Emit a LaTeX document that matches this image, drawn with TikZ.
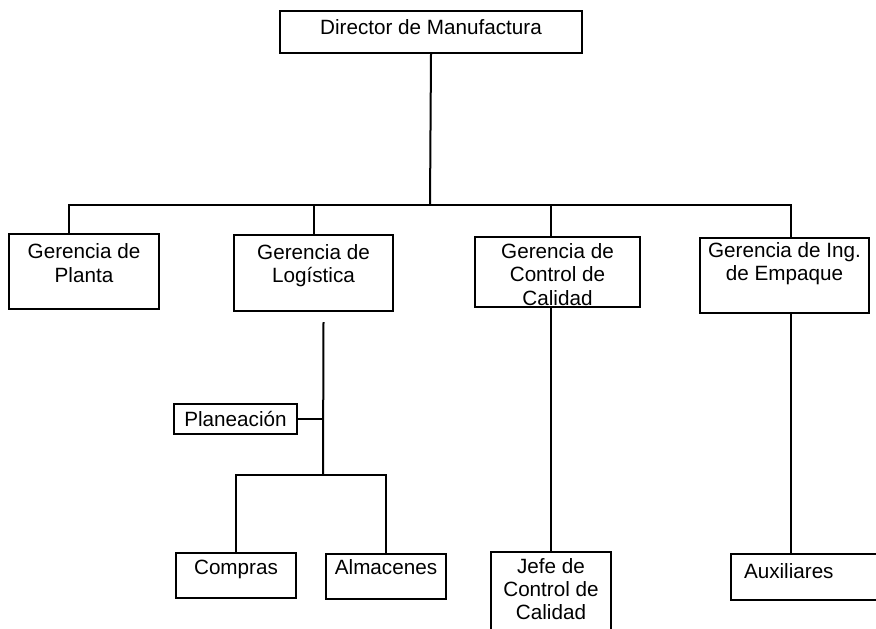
\documentclass[tikz,border=0pt]{standalone}
\usepackage{fontspec}
\setmainfont{Liberation Sans}
\usepackage{tikz}
\usetikzlibrary{positioning}

% texto de cada caja: [espacio arriba]{ancho}{alto}{texto}
\newcommand{\texto}[4][3pt]{\parbox[c][#3][t]{#2}{\centering\vspace*{#1}\strut #4}}

\tikzset{
  caja/.style={draw, line width=1.2pt, inner sep=0pt, anchor=north west,
    font=\fontsize{12.4}{14}\selectfont},
  linea/.style={line width=1.2pt},
}

\begin{document}
\begin{tikzpicture}[x=0.6pt, y=-0.6pt]
\useasboundingbox (0,0) rectangle (876,628);
\clip (0,0) rectangle (876,628);

% direccion
\node[caja] (dir) at (279,10) {\texto[4pt]{181.2pt}{25.2pt}{Director de Manufactura}};

% gerencias
\node[caja] (planta) at (8,233) {\texto[5pt]{90pt}{45pt}{Gerencia de\\Planta}};
\node[caja] (logistica) at (233,234) {\texto[4.6pt]{95.4pt}{45.6pt}{Gerencia de\\Logística}};
\node[caja] (calidad) at (474,236) {\texto[3pt]{99pt}{42pt}{Gerencia de\\Control de\\Calidad}};
\node[caja] (empaque) at (699,237) {\texto[1.6pt]{101.4pt}{45pt}{Gerencia de Ing.\\de Empaque}};

% departamentos
\node[caja] (planeacion) at (173,403) {\texto[3.8pt]{73.8pt}{18pt}{Planeación}};
\node[caja] (compras) at (175,552) {\texto[2.8pt]{72pt}{27pt}{Compras}};
\node[caja] (almacenes) at (325,553) {\texto[2.2pt]{72pt}{27pt}{Almacenes}};
\node[caja] (jefe) at (490,551) {\texto[2.8pt]{72pt}{54pt}{Jefe de\\Control de\\Calidad}};
\node[caja] (auxiliares) at (730,553) {\parbox[c][27.6pt][t]{96pt}{\vspace*{5pt}\hspace*{7.8pt}\strut Auxiliares}};

% lineas de mando
\coordinate (bus) at (430,205);
\coordinate (pla) at ([xshift=-9pt]planta.north);
\coordinate (emp) at ([xshift=4pt]empaque.north);
\draw[linea] (dir.south) -- (bus);
\draw[linea] (pla) |- (bus) -| (emp);
\draw[linea] (logistica.north) -- (logistica.north |- bus);
\draw[linea] (jefe.north |- bus) -- (jefe.north |- calidad.north);
\draw[linea] (jefe.north |- calidad.south) -- (jefe.north);

\coordinate (emps) at ([xshift=4pt]empaque.south);
\draw[linea] (emps) -- (emps |- auxiliares.north);

% logistica
\coordinate (log) at ([xshift=6pt,yshift=-6pt]logistica.south);
\coordinate (sub) at (323,475);
\draw[linea] (log) -- (sub);
\draw[linea] (planeacion.east) -- (planeacion.east -| log);
\draw[linea] (compras.north) |- (sub) -| (almacenes.north);
\end{tikzpicture}
\end{document}
